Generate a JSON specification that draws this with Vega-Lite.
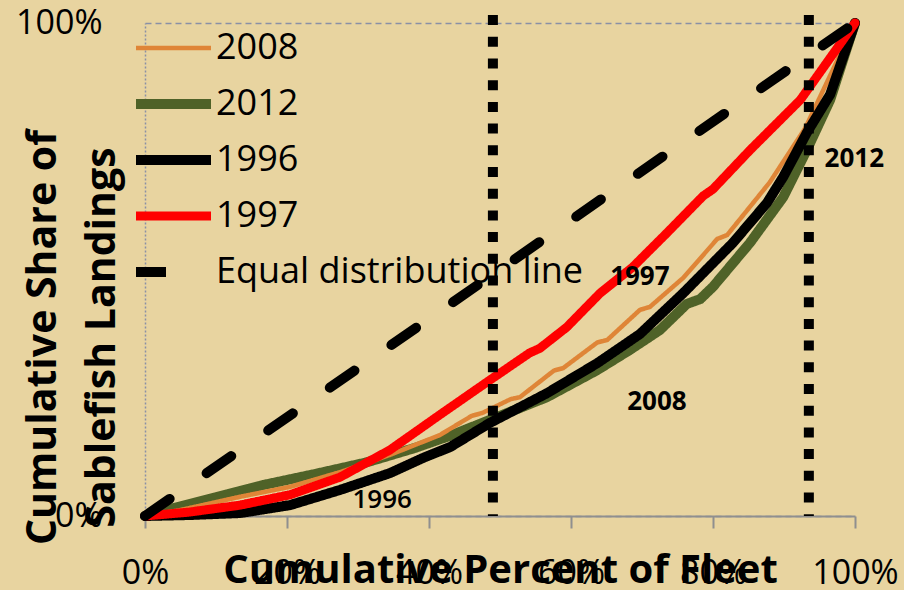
{
  "$schema": "https://vega.github.io/schema/vega-lite/v6.json",
  "width": 710,
  "height": 493,
  "autosize": {"type": "none"},
  "padding": {"left": 145, "top": 23, "right": 49, "bottom": 74},
  "background": "#E8D4A0",
  "config": {
    "view": {"stroke": null},
    "font": "Open Sans",
    "legend": {
      "orient": "none",
      "legendX": -14,
      "legendY": -3,
      "padding": 0,
      "symbolType": "stroke",
      "symbolSize": 5625,
      "labelFont": "Open Sans",
      "labelFontSize": 36,
      "labelColor": "#000000",
      "labelLimit": 700,
      "labelOffset": 0,
      "rowPadding": 0,
      "clipHeight": 56
    }
  },
  "datasets": {
    "curves": [
      {"series": "2012", "x": 0, "y": 0},
      {"series": "2012", "x": 4, "y": 1.6},
      {"series": "2012", "x": 10, "y": 3.8},
      {"series": "2012", "x": 16.7, "y": 6.3},
      {"series": "2012", "x": 23.9, "y": 8.5},
      {"series": "2012", "x": 31, "y": 10.8},
      {"series": "2012", "x": 38, "y": 13.8},
      {"series": "2012", "x": 43, "y": 16.3},
      {"series": "2012", "x": 48.6, "y": 19.5},
      {"series": "2012", "x": 56.6, "y": 24.1},
      {"series": "2012", "x": 63.7, "y": 29.6},
      {"series": "2012", "x": 68.3, "y": 33.7},
      {"series": "2012", "x": 72.5, "y": 37.7},
      {"series": "2012", "x": 76.3, "y": 43.0},
      {"series": "2012", "x": 78.2, "y": 44.0},
      {"series": "2012", "x": 80, "y": 46.5},
      {"series": "2012", "x": 85.2, "y": 55.4},
      {"series": "2012", "x": 89.9, "y": 64.7},
      {"series": "2012", "x": 93.2, "y": 74.2},
      {"series": "2012", "x": 96.5, "y": 84.4},
      {"series": "2012", "x": 100, "y": 100},
      {"series": "2008", "x": 0, "y": 0},
      {"series": "2008", "x": 5, "y": 1.2},
      {"series": "2008", "x": 13.4, "y": 3.9},
      {"series": "2008", "x": 20.4, "y": 5.9},
      {"series": "2008", "x": 27.5, "y": 8.9},
      {"series": "2008", "x": 34.5, "y": 12.4},
      {"series": "2008", "x": 41.5, "y": 16.4},
      {"series": "2008", "x": 46, "y": 20.3},
      {"series": "2008", "x": 47.5, "y": 20.9},
      {"series": "2008", "x": 51.5, "y": 23.7},
      {"series": "2008", "x": 52.8, "y": 24.1},
      {"series": "2008", "x": 57.6, "y": 29.5},
      {"series": "2008", "x": 58.9, "y": 30.0},
      {"series": "2008", "x": 63.7, "y": 35.2},
      {"series": "2008", "x": 65.1, "y": 35.7},
      {"series": "2008", "x": 69.7, "y": 41.8},
      {"series": "2008", "x": 71.1, "y": 42.4},
      {"series": "2008", "x": 75.8, "y": 48.3},
      {"series": "2008", "x": 80.6, "y": 56.2},
      {"series": "2008", "x": 82, "y": 57},
      {"series": "2008", "x": 88, "y": 67.7},
      {"series": "2008", "x": 93, "y": 78.7},
      {"series": "2008", "x": 100, "y": 100},
      {"series": "1996", "x": 0, "y": 0},
      {"series": "1996", "x": 6.3, "y": 0.2},
      {"series": "1996", "x": 13.4, "y": 0.6},
      {"series": "1996", "x": 20.4, "y": 2.2},
      {"series": "1996", "x": 27.5, "y": 5.3},
      {"series": "1996", "x": 34.5, "y": 8.7},
      {"series": "1996", "x": 39.2, "y": 11.8},
      {"series": "1996", "x": 43, "y": 14.0},
      {"series": "1996", "x": 48.6, "y": 18.9},
      {"series": "1996", "x": 56.6, "y": 24.9},
      {"series": "1996", "x": 63.7, "y": 31.0},
      {"series": "1996", "x": 69.7, "y": 36.9},
      {"series": "1996", "x": 75.8, "y": 45.2},
      {"series": "1996", "x": 82.8, "y": 55.4},
      {"series": "1996", "x": 87.6, "y": 63.5},
      {"series": "1996", "x": 89.9, "y": 68.8},
      {"series": "1996", "x": 93.2, "y": 77.7},
      {"series": "1996", "x": 96.5, "y": 85.5},
      {"series": "1996", "x": 100, "y": 100},
      {"series": "1997", "x": 0, "y": 0},
      {"series": "1997", "x": 6.3, "y": 0.8},
      {"series": "1997", "x": 13.4, "y": 2.2},
      {"series": "1997", "x": 20.4, "y": 4.3},
      {"series": "1997", "x": 27.5, "y": 7.9},
      {"series": "1997", "x": 34.5, "y": 13.4},
      {"series": "1997", "x": 41.5, "y": 20.5},
      {"series": "1997", "x": 48.6, "y": 27.6},
      {"series": "1997", "x": 54.2, "y": 33.1},
      {"series": "1997", "x": 55.6, "y": 34.0},
      {"series": "1997", "x": 59.4, "y": 38.3},
      {"series": "1997", "x": 64.1, "y": 45.2},
      {"series": "1997", "x": 68.7, "y": 50.5},
      {"series": "1997", "x": 73.5, "y": 57.4},
      {"series": "1997", "x": 78.6, "y": 64.9},
      {"series": "1997", "x": 80, "y": 66.3},
      {"series": "1997", "x": 85.2, "y": 74.2},
      {"series": "1997", "x": 92.3, "y": 84.4},
      {"series": "1997", "x": 100, "y": 100},
      {"series": "Equal distribution line", "x": 0, "y": 0},
      {"series": "Equal distribution line", "x": 100, "y": 100}
    ],
    "cuts": [
      {"x": 49, "y": 101.6, "y2": 0},
      {"x": 93.5, "y": 101.6, "y2": 0}
    ],
    "notes": [
      {"label": "2012", "x": 99.9, "y": 70.8, "weight": "bold"},
      {"label": "1997", "x": 69.7, "y": 46.9, "weight": "bold"},
      {"label": "2008", "x": 72.1, "y": 21.5, "weight": "bold"},
      {"label": "1996", "x": 33.4, "y": 1.6, "weight": "semibold"}
    ]
  },
  "encoding": {
    "x": {
      "field": "x",
      "type": "quantitative",
      "scale": {"domain": [0, 100], "nice": false},
      "axis": {
        "values": [0, 20, 40, 60, 80, 100],
        "labelExpr": "datum.value + '%'",
        "labelFont": "Open Sans",
        "labelFontSize": 34,
        "labelColor": "#000000",
        "labelBaseline": "alphabetic",
        "labelPadding": 55,
        "labelFlush": false,
        "labelOverlap": false,
        "tickSize": 12,
        "tickWidth": 2,
        "tickColor": "#8F8F8F",
        "domainColor": "#8F8F8F",
        "domainWidth": 2,
        "grid": false,
        "title": "Cumulative Percent of Fleet",
        "titleFont": "Open Sans",
        "titleFontSize": 40,
        "titleFontWeight": "bold",
        "titleColor": "#000000",
        "titleBaseline": "alphabetic",
        "titleAlign": "center",
        "titleX": 355,
        "titleY": 66
      }
    },
    "y": {
      "field": "y",
      "type": "quantitative",
      "scale": {"domain": [0, 100], "nice": false},
      "axis": {
        "values": [0, 100],
        "labelExpr": "datum.value + '%'",
        "labelFont": "Open Sans",
        "labelFontSize": 34,
        "labelColor": "#000000",
        "labelBaseline": "middle",
        "labelPadding": 43,
        "ticks": false,
        "domainColor": "#8A90A5",
        "domainWidth": 1.5,
        "domainDash": [2, 2],
        "grid": true,
        "gridColor": "#8A90A5",
        "gridWidth": 1.5,
        "gridDash": [6, 4],
        "title": ["Cumulative Share of", "Sablefish Landings"],
        "titleFont": "Open Sans",
        "titleFontSize": 41,
        "titleFontWeight": "bold",
        "titleColor": "#000000",
        "titleLineHeight": 59,
        "titleAngle": 270,
        "titleAlign": "center",
        "titleBaseline": "alphabetic",
        "titleX": -90,
        "titleY": 314
      }
    }
  },
  "layer": [
    {
      "data": {"name": "curves"},
      "transform": [{"filter": "datum.series === '2012'"}],
      "mark": {"type": "line", "strokeCap": "round", "strokeJoin": "round"},
      "encoding": {
        "color": {"field": "series", "type": "nominal", "title": null,
          "scale": {"domain": ["2008", "2012", "1996", "1997", "Equal distribution line"], "range": ["#DF8537", "#4F6228", "#000000", "#FF0000", "#000000"]}},
        "strokeWidth": {"field": "series", "type": "nominal", "title": null,
          "scale": {"type": "ordinal", "domain": ["2008", "2012", "1996", "1997", "Equal distribution line"], "range": [4.5, 10, 10, 9, 10]}},
        "strokeDash": {"field": "series", "type": "nominal", "title": null,
          "scale": {"domain": ["2008", "2012", "1996", "1997", "Equal distribution line"], "range": [[1, 0], [1, 0], [1, 0], [1, 0], [30, 45]]}}
      }
    },
    {
      "data": {"name": "curves"},
      "transform": [{"filter": "datum.series === '2008'"}],
      "mark": {"type": "line", "strokeCap": "round", "strokeJoin": "round"},
      "encoding": {
        "color": {"field": "series", "type": "nominal", "title": null,
          "scale": {"domain": ["2008", "2012", "1996", "1997", "Equal distribution line"], "range": ["#DF8537", "#4F6228", "#000000", "#FF0000", "#000000"]}},
        "strokeWidth": {"field": "series", "type": "nominal", "title": null,
          "scale": {"type": "ordinal", "domain": ["2008", "2012", "1996", "1997", "Equal distribution line"], "range": [4.5, 10, 10, 9, 10]}},
        "strokeDash": {"field": "series", "type": "nominal", "title": null,
          "scale": {"domain": ["2008", "2012", "1996", "1997", "Equal distribution line"], "range": [[1, 0], [1, 0], [1, 0], [1, 0], [30, 45]]}}
      }
    },
    {
      "data": {"name": "curves"},
      "transform": [{"filter": "datum.series === '1996'"}],
      "mark": {"type": "line", "strokeCap": "round", "strokeJoin": "round"},
      "encoding": {
        "color": {"field": "series", "type": "nominal", "title": null,
          "scale": {"domain": ["2008", "2012", "1996", "1997", "Equal distribution line"], "range": ["#DF8537", "#4F6228", "#000000", "#FF0000", "#000000"]}},
        "strokeWidth": {"field": "series", "type": "nominal", "title": null,
          "scale": {"type": "ordinal", "domain": ["2008", "2012", "1996", "1997", "Equal distribution line"], "range": [4.5, 10, 10, 9, 10]}},
        "strokeDash": {"field": "series", "type": "nominal", "title": null,
          "scale": {"domain": ["2008", "2012", "1996", "1997", "Equal distribution line"], "range": [[1, 0], [1, 0], [1, 0], [1, 0], [30, 45]]}}
      }
    },
    {
      "data": {"name": "curves"},
      "transform": [{"filter": "datum.series === '1997'"}],
      "mark": {"type": "line", "strokeCap": "round", "strokeJoin": "round"},
      "encoding": {
        "color": {"field": "series", "type": "nominal", "title": null,
          "scale": {"domain": ["2008", "2012", "1996", "1997", "Equal distribution line"], "range": ["#DF8537", "#4F6228", "#000000", "#FF0000", "#000000"]}},
        "strokeWidth": {"field": "series", "type": "nominal", "title": null,
          "scale": {"type": "ordinal", "domain": ["2008", "2012", "1996", "1997", "Equal distribution line"], "range": [4.5, 10, 10, 9, 10]}},
        "strokeDash": {"field": "series", "type": "nominal", "title": null,
          "scale": {"domain": ["2008", "2012", "1996", "1997", "Equal distribution line"], "range": [[1, 0], [1, 0], [1, 0], [1, 0], [30, 45]]}}
      }
    },
    {
      "data": {"name": "curves"},
      "transform": [{"filter": "datum.series === 'Equal distribution line'"}],
      "mark": {"type": "line", "strokeCap": "round", "strokeJoin": "round"},
      "encoding": {
        "color": {"field": "series", "type": "nominal", "title": null,
          "scale": {"domain": ["2008", "2012", "1996", "1997", "Equal distribution line"], "range": ["#DF8537", "#4F6228", "#000000", "#FF0000", "#000000"]}},
        "strokeWidth": {"field": "series", "type": "nominal", "title": null,
          "scale": {"type": "ordinal", "domain": ["2008", "2012", "1996", "1997", "Equal distribution line"], "range": [4.5, 10, 10, 9, 10]}},
        "strokeDash": {"field": "series", "type": "nominal", "title": null,
          "scale": {"domain": ["2008", "2012", "1996", "1997", "Equal distribution line"], "range": [[1, 0], [1, 0], [1, 0], [1, 0], [30, 45]]}}
      }
    },
    {
      "data": {"name": "cuts"},
      "mark": {"type": "rule", "color": "#000000", "strokeWidth": 10, "strokeDash": [10, 11.7], "strokeCap": "butt"},
      "encoding": {
        "y2": {"field": "y2"}
      }
    },
    {
      "data": {"name": "notes"},
      "transform": [{"filter": "datum.weight === 'bold'"}],
      "mark": {"type": "text", "font": "Open Sans", "fontSize": 26, "fontWeight": "bold", "align": "center", "baseline": "alphabetic", "color": "#000000"},
      "encoding": {
        "text": {"field": "label", "type": "nominal"}
      }
    },
    {
      "data": {"name": "notes"},
      "transform": [{"filter": "datum.weight === 'semibold'"}],
      "mark": {"type": "text", "font": "Open Sans", "fontSize": 26, "fontWeight": 600, "align": "center", "baseline": "alphabetic", "color": "#000000"},
      "encoding": {
        "text": {"field": "label", "type": "nominal"}
      }
    }
  ]
}
